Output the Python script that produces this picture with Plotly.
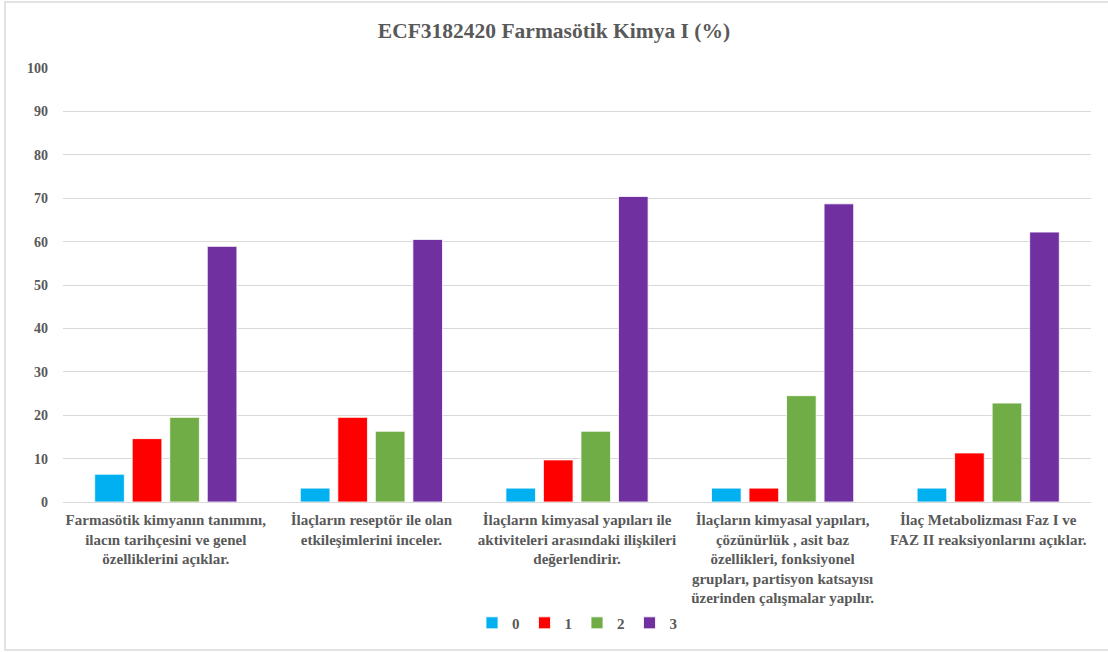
import plotly.graph_objects as go

# Learning outcomes (x-axis categories, line breaks as displayed)
categories = [
    "Farmasötik kimyanın tanımını,<br>ilacın tarihçesini ve genel<br>özelliklerini açıklar.",
    "İlaçların reseptör ile olan<br>etkileşimlerini inceler.",
    "İlaçların kimyasal yapıları ile<br>aktiviteleri arasındaki ilişkileri<br>değerlendirir.",
    "İlaçların kimyasal yapıları,<br>çözünürlük , asit baz<br>özellikleri, fonksiyonel<br>grupları, partisyon katsayısı<br>üzerinden çalışmalar yapılır.",
    "İlaç Metabolizması Faz I ve<br>FAZ II reaksiyonlarını açıklar.",
]

# Percentage of students per score level
score_0 = [6.4, 3.2, 3.2, 3.2, 3.2]
score_1 = [14.6, 19.5, 9.7, 3.2, 11.3]
score_2 = [19.5, 16.3, 16.3, 24.5, 22.8]
score_3 = [58.9, 60.5, 70.4, 68.7, 62.2]

series_names = ["0", "1", "2", "3"]
series_values = [score_0, score_1, score_2, score_3]
series_colors = ["#00B0F0", "#FF0000", "#70AD47", "#7030A0"]

FONT = "Liberation Serif"
TEXT = "#595959"

fig = go.Figure()
for name, vals, color in zip(series_names, series_values, series_colors):
    fig.add_trace(go.Bar(
        x=categories, y=vals, name=f"<b>{name}</b>",
        marker=dict(color=color, line=dict(color="rgba(255,255,255,0.8)", width=1)),
    ))

fig.update_layout(
    width=1108, height=652,
    margin=dict(l=63, r=17, t=68, b=150),
    paper_bgcolor="white", plot_bgcolor="white",
    barmode="group", bargap=0.27, bargroupgap=0.21,
    font=dict(family=FONT, color=TEXT, size=14),
    title=dict(
        text="<b>ECF3182420 Farmasötik Kimya I (%)</b>",
        x=0.5, xanchor="center", y=0.953, yanchor="middle",
        font=dict(family=FONT, size=21.5, color=TEXT),
    ),
    legend=dict(
        orientation="h", x=0.5, xanchor="center", y=-0.279, yanchor="middle",
        font=dict(family=FONT, size=15, color=TEXT),
        itemwidth=30, tracegroupgap=0,
    ),
    showlegend=True,
)

fig.update_xaxes(
    tickvals=categories, ticktext=[f"<b>{c}</b>" for c in categories],
    tickfont=dict(family=FONT, size=15, color=TEXT),
    showline=True, linecolor="#D9D9D9", linewidth=1,
    ticks="", showgrid=False, ticklabelstandoff=4,
)
fig.update_yaxes(
    range=[0, 100],
    tickvals=list(range(0, 101, 10)), ticktext=[f"<b>{v}</b>" for v in range(0, 101, 10)],
    showgrid=True, gridcolor="#D9D9D9", gridwidth=1,
    zeroline=False, showline=False,
    tickfont=dict(family=FONT, size=14, color=TEXT),
    ticklabelstandoff=14,
)

# Light frame around the chart area
fig.add_shape(
    type="rect", xref="paper", yref="paper",
    x0=(5 - 63) / 1028, x1=(1112 - 63) / 1028,
    y0=(502 - 650) / 434, y1=(502 - 2) / 434,
    line=dict(color="#D9D9D9", width=1.5), fillcolor="rgba(0,0,0,0)", layer="below",
)

fig.write_html("out.html")
